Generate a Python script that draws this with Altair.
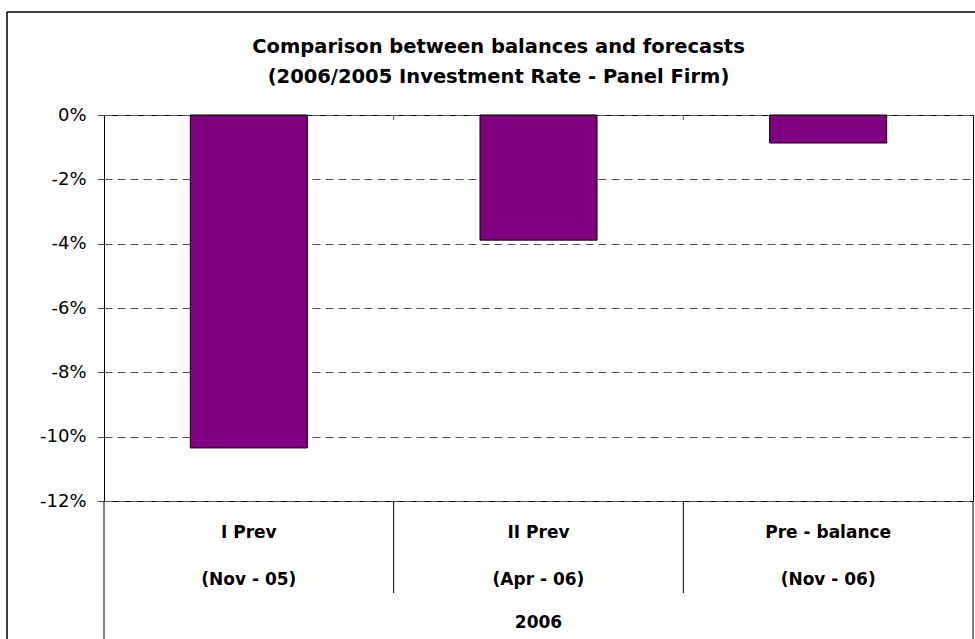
import altair as alt
import pandas as pd

# Investment-rate comparison: first forecast, second forecast, pre-balance
categories = ["I Prev", "II Prev", "Pre - balance"]
periods = ["(Nov - 05)", "(Apr - 06)", "(Nov - 06)"]
rates = [-10.35, -3.89, -0.87]          # percent
year = ["2006"]
y_ticks = [0, -2, -4, -6, -8, -10, -12]
title_lines = [
    "Comparison between balances and forecasts",
    "(2006/2005 Investment Rate - Panel Firm)",
]

FONT = "DejaVu Sans"
PURPLE = "#800080"
PLOT_W, PLOT_H = 869, 386
TITLE_X = 394.5   # heading is centred on the whole chart area, not the plot

bars_df = pd.DataFrame({"category": categories, "period": periods, "rate": rates})
bounds_df = pd.DataFrame({"category": categories[:-1]})
year_df = pd.DataFrame({"year": year})
one_df = pd.DataFrame({"k": [0]})

x_scale = alt.Scale(paddingInner=0, paddingOuter=0)
x_enc = alt.X("category:N", sort=categories, scale=x_scale, axis=None)
x_edge = alt.X("category:N", sort=categories, scale=x_scale, axis=None, bandPosition=1)

bars = alt.Chart(bars_df).mark_bar(
    width=alt.RelativeBandSize(0.404), color=PURPLE, stroke="black", strokeWidth=1
).encode(
    x=x_enc,
    y=alt.Y(
        "rate:Q",
        scale=alt.Scale(domain=[-12, 0], nice=False, zero=True),
        axis=alt.Axis(
            values=y_ticks,
            labelExpr="datum.value + '%'",
            title=None,
            domain=False,
            tickSize=7,
            tickColor="#555555",
            labelPadding=11,
            labelFont=FONT,
            labelFontSize=18,
            labelColor="black",
            grid=True,
            gridDash=[8, 5],
            gridColor="#555555",
            gridWidth=1,
        ),
    ),
)

# two-line heading above the plot
title_1 = alt.Chart(pd.DataFrame({"t": [title_lines[0]]})).mark_text(
    font=FONT, fontSize=19.5, fontWeight="bold", color="black", baseline="alphabetic"
).encode(x=alt.value(TITLE_X), y=alt.value(-62), text="t:N")
title_2 = alt.Chart(pd.DataFrame({"t": [title_lines[1]]})).mark_text(
    font=FONT, fontSize=19.5, fontWeight="bold", color="black", baseline="alphabetic"
).encode(x=alt.value(TITLE_X), y=alt.value(-32), text="t:N")

# category table below the plot
cat_text = alt.Chart(bars_df).mark_text(
    font=FONT, fontSize=17, fontWeight="bold", color="black", baseline="middle"
).encode(x=x_enc, y=alt.value(418), text="category:N")

period_text = alt.Chart(bars_df).mark_text(
    font=FONT, fontSize=17, fontWeight="bold", color="black", baseline="middle"
).encode(x=x_enc, y=alt.value(465), text="period:N")

year_text = alt.Chart(year_df).mark_text(
    font=FONT, fontSize=17, fontWeight="bold", color="black", baseline="middle"
).encode(x=alt.value(PLOT_W / 2), y=alt.value(508), text="year:N")

dividers = alt.Chart(bounds_df).mark_rule(color="black", strokeWidth=1).encode(
    x=x_edge, y=alt.value(PLOT_H), y2=alt.value(478)
)

top_ticks = alt.Chart(bounds_df).mark_rule(color="#555555", strokeWidth=1).encode(
    x=x_edge, y=alt.value(0), y2=alt.value(5)
)

left_edge = alt.Chart(one_df).mark_rule(color="black", strokeWidth=1).encode(
    x=alt.value(0), y=alt.value(PLOT_H), y2=alt.value(540)
)
right_edge = alt.Chart(one_df).mark_rule(color="black", strokeWidth=1).encode(
    x=alt.value(PLOT_W), y=alt.value(PLOT_H), y2=alt.value(540)
)

# chart-area frame (left and top edges)
frame_left = alt.Chart(one_df).mark_rule(color="black", strokeWidth=1.5).encode(
    x=alt.value(-97), y=alt.value(-103), y2=alt.value(540)
)
frame_top = alt.Chart(one_df).mark_rule(color="black", strokeWidth=1.5).encode(
    x=alt.value(-97), x2=alt.value(PLOT_W + 10), y=alt.value(-103)
)

chart = alt.layer(
    frame_left, frame_top, bars, top_ticks, dividers, left_edge, right_edge,
    title_1, title_2, cat_text, period_text, year_text,
).properties(
    width=PLOT_W,
    height=PLOT_H,
    padding={"left": 104, "top": 115, "right": 2, "bottom": 138},
    autosize=alt.AutoSizeParams(type="none"),
    background="white",
).configure_view(stroke="black", strokeWidth=1)

chart.save("out.html", embed_options={"renderer": "svg", "actions": False})
